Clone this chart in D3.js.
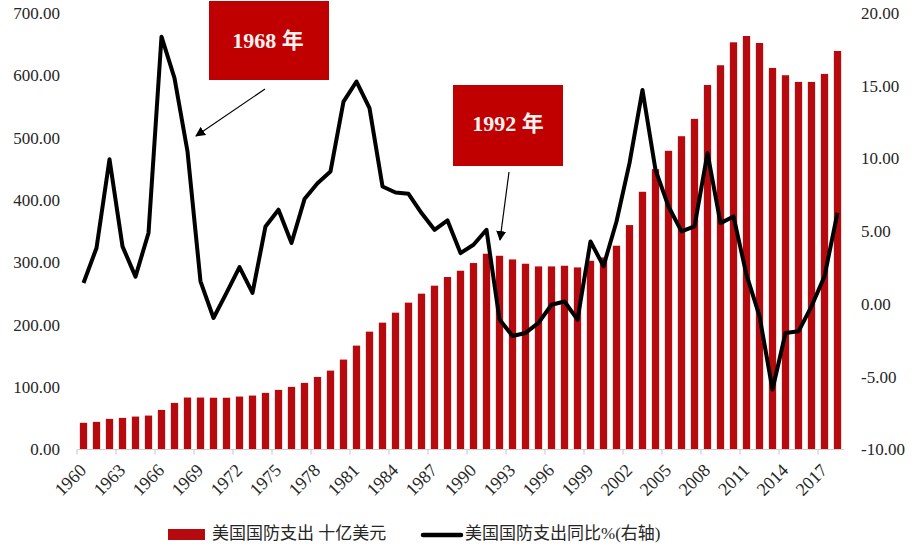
<!DOCTYPE html>
<html>
<head>
<meta charset="utf-8">
<script src="https://cdn.jsdelivr.net/npm/d3@7"></script>
<style>
  html, body { margin: 0; padding: 0; background: #ffffff; }
  svg { display: block; }
</style>
</head>
<body>
<svg id="chart" width="916" height="555"></svg>
<script>
const years = [1960,1961,1962,1963,1964,1965,1966,1967,1968,1969,
  1970,1971,1972,1973,1974,1975,1976,1977,1978,1979,
  1980,1981,1982,1983,1984,1985,1986,1987,1988,1989,
  1990,1991,1992,1993,1994,1995,1996,1997,1998,1999,
  2000,2001,2002,2003,2004,2005,2006,2007,2008,2009,
  2010,2011,2012,2013,2014,2015,2016,2017,2018];

const spending = [42.8,44.3,49.1,50.7,52.8,54.4,63.5,74.7,83.3,83.3,
  83.0,83.0,84.9,86.5,90.8,95.6,100.4,106.8,116.4,126.5,
  144.2,166.6,189.0,203.4,219.4,235.5,249.9,262.7,276.6,286.7,
  299.0,314.0,310.7,304.8,297.9,293.6,293.6,294.7,292.0,302.7,
  308.0,326.8,359.9,413.3,449.6,479.0,502.4,530.2,584.6,616.2,
  653.0,663.1,651.9,611.9,600.2,589.5,589.5,602.3,639.1];

const growth = [1.44,3.85,9.95,3.96,1.88,4.88,18.37,15.52,10.48,1.56,
  -0.96,0.76,2.54,0.76,5.33,6.48,4.19,7.21,8.3,9.11,
  13.91,15.29,13.46,8.08,7.66,7.57,6.25,5.1,5.74,3.5,
  4.07,5.1,-1.07,-2.2,-1.99,-1.3,-0.05,0.17,-1.07,4.3,
  2.6,5.67,9.68,14.71,9.22,6.7,4.99,5.33,10.37,5.56,
  6.02,2.0,-0.84,-5.88,-1.99,-1.88,-0.16,1.9,6.27];

const leftTicks = [0,100,200,300,400,500,600,700];
const rightTicks = [-10,-5,0,5,10,15,20];
const xLabelYears = [1960,1963,1966,1969,1972,1975,1978,1981,1984,1987,1990,1993,1996,1999,2002,2005,2008,2011,2014,2017];

const annotations = [
  {label: "1968 年", year: 1968},
  {label: "1992 年", year: 1992}
];
const legendLabels = ["美国国防支出 十亿美元", "美国国防支出同比%(右轴)"];

const barColor = "#B60A0E";
const boxColor = "#C00000";
const textColor = "#262626";
const serif = "'Liberation Serif', 'Times New Roman', serif";
const cjk = "'Liberation Serif', 'Noto Sans CJK SC', serif";

const svg = d3.select("#chart");

const plotLeft = 77, plotRight = 844, plotTop = 13, plotBottom = 449.5;
const pad = 0.44;

const x = d3.scaleBand().domain(years).range([plotLeft, plotRight])
  .paddingInner(pad).paddingOuter(pad / 2);
const yL = d3.scaleLinear().domain([0, 700]).range([plotBottom, plotTop]);
const yR = d3.scaleLinear().domain([-10, 20]).range([plotBottom, plotTop]);
const step = x.step();
const boundary = yr => x(yr) - step * pad / 2;
const center = yr => x(yr) + x.bandwidth() / 2;

// Bars
svg.append("g").selectAll("rect").data(years).join("rect")
  .attr("x", d => x(d))
  .attr("width", x.bandwidth())
  .attr("y", (d, i) => yL(spending[i]))
  .attr("height", (d, i) => yL(0) - yL(spending[i]))
  .attr("fill", barColor);

// Left axis
const fmt = v => v.toFixed(2);
const gL = svg.append("g").attr("transform", "translate(60,0)")
  .call(d3.axisLeft(yL).tickValues(leftTicks).tickSize(0).tickPadding(0).tickFormat(fmt));
gL.select(".domain").remove();
gL.selectAll("text").attr("font-family", serif).attr("font-size", 17).attr("fill", textColor);

// Right axis
const gR = svg.append("g").attr("transform", "translate(861,0)")
  .call(d3.axisRight(yR).tickValues(rightTicks).tickSize(0).tickPadding(0).tickFormat(fmt));
gR.select(".domain").remove();
gR.selectAll("text").attr("font-family", serif).attr("font-size", 17).attr("fill", textColor);

// X axis line & tick marks at category boundaries
svg.append("line")
  .attr("x1", plotLeft).attr("x2", plotRight)
  .attr("y1", plotBottom).attr("y2", plotBottom)
  .attr("stroke", "#D0D0D0").attr("stroke-width", 1.2);
svg.append("g").selectAll("line").data(xLabelYears).join("line")
  .attr("x1", d => boundary(d)).attr("x2", d => boundary(d))
  .attr("y1", plotBottom).attr("y2", plotBottom + 5)
  .attr("stroke", "#D0D0D0").attr("stroke-width", 1.2);

// X labels (rotated)
const gX = svg.append("g").attr("transform", `translate(0,${plotBottom})`)
  .call(d3.axisBottom(x).tickValues(xLabelYears).tickSize(0).tickPadding(0));
gX.select(".domain").remove();
gX.selectAll("text")
  .attr("font-family", serif).attr("font-size", 18).attr("fill", textColor)
  .attr("text-anchor", "end")
  .attr("dy", null).attr("y", null)
  .attr("transform", "translate(1,19) rotate(-45)")
  .attr("dominant-baseline", "middle");

// Line
const line = d3.line().x((d, i) => center(years[i])).y(d => yR(d)).curve(d3.curveLinear);
svg.append("path").datum(growth)
  .attr("d", line)
  .attr("fill", "none").attr("stroke", "#000").attr("stroke-width", 4)
  .attr("stroke-linejoin", "round");

// Annotations
const defs = svg.append("defs");
defs.append("marker").attr("id", "arrow")
  .attr("viewBox", "0 0 10 10").attr("refX", 9).attr("refY", 5)
  .attr("markerWidth", 10).attr("markerHeight", 10).attr("markerUnits", "userSpaceOnUse")
  .attr("orient", "auto")
  .append("path").attr("d", "M0,0 L10,5 L0,10 Z").attr("fill", "#000");

const boxes = [
  {x0: 209, y0: 1, w: 120, h: 79, tx: 268, ty: 43, ax1: 265, ay1: 89, ax2: 196, ay2: 136},
  {x0: 453, y0: 85, w: 110, h: 81, tx: 508, ty: 126, ax1: 509, ay1: 172, ax2: 500, ay2: 240}
];
annotations.forEach((a, i) => {
  const b = boxes[i];
  svg.append("rect").attr("x", b.x0).attr("y", b.y0).attr("width", b.w).attr("height", b.h)
    .attr("fill", boxColor);
  svg.append("text").attr("x", b.tx).attr("y", b.ty)
    .attr("text-anchor", "middle").attr("dominant-baseline", "middle")
    .attr("font-family", cjk).attr("font-weight", "bold").attr("font-size", 22)
    .attr("fill", "#FFF2F0").text(a.label);
  svg.append("line").attr("x1", b.ax1).attr("y1", b.ay1).attr("x2", b.ax2).attr("y2", b.ay2)
    .attr("stroke", "#000").attr("stroke-width", 1.2).attr("marker-end", "url(#arrow)");
});

// Legend
const lg = svg.append("g");
lg.append("rect").attr("x", 168).attr("y", 529).attr("width", 37).attr("height", 11).attr("fill", barColor);
lg.append("text").attr("x", 212).attr("y", 535).attr("dominant-baseline", "middle")
  .attr("font-family", cjk).attr("font-size", 17).attr("fill", textColor).text(legendLabels[0]);
lg.append("line").attr("x1", 423).attr("x2", 461).attr("y1", 535).attr("y2", 535)
  .attr("stroke", "#000").attr("stroke-width", 4.5).attr("stroke-linecap", "round");
lg.append("text").attr("x", 465).attr("y", 535).attr("dominant-baseline", "middle")
  .attr("font-family", cjk).attr("font-size", 17).attr("fill", textColor).text(legendLabels[1]);
</script>
</body>
</html>
